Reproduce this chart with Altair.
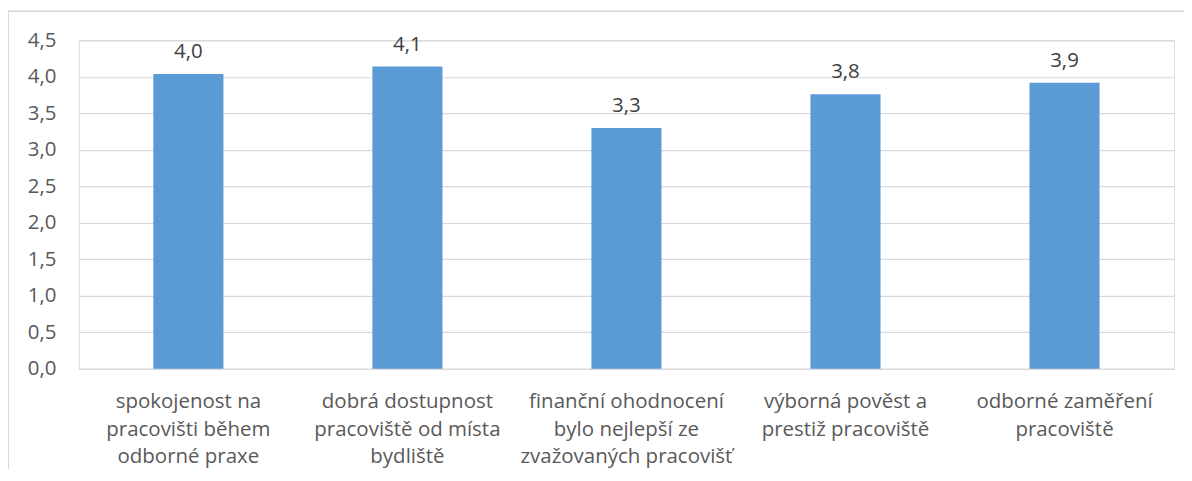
import altair as alt
import pandas as pd

categories = [
    "spokojenost na\npracovišti během\nodborné praxe",
    "dobrá dostupnost\npracoviště od místa\nbydliště",
    "finanční ohodnocení\nbylo nejlepší ze\nzvažovaných pracovišť",
    "výborná pověst a\nprestiž pracoviště",
    "odborné zaměření\npracoviště",
]
values = [4.04, 4.14, 3.30, 3.76, 3.92]
y_ticks = [0.0, 0.5, 1.0, 1.5, 2.0, 2.5, 3.0, 3.5, 4.0, 4.5]

df = pd.DataFrame({"cat": categories, "val": values})

FONT = "Open Sans"
FS = 20.5
W, H = 1097, 329

x_enc = alt.X(
    "cat:N",
    sort=categories,
    title=None,
    scale=alt.Scale(paddingInner=0.68, paddingOuter=0.34),
    axis=alt.Axis(
        labelAngle=0,
        labelExpr="split(datum.label, '\\n')",
        labelFont=FONT,
        labelFontSize=FS,
        labelColor="#595959",
        labelLineHeight=27.5,
        labelPadding=39,
        labelLimit=0,
        labelOverlap=False,
        ticks=False,
        domainColor="#d9d9d9",
        domainWidth=1.3,
        grid=False,
        labelBaseline="alphabetic",
    ),
)
y_enc = alt.Y(
    "val:Q",
    title=None,
    scale=alt.Scale(domain=[0, 4.5], nice=False),
    axis=alt.Axis(
        values=y_ticks,
        tickCount=10,
        labelExpr="replace(format(datum.value, '.1f'), '.', ',')",
        labelFont=FONT,
        labelFontSize=FS,
        labelColor="#595959",
        labelPadding=23,
        labelOverlap=False,
        labelBound=False,
        ticks=False,
        domain=False,
        gridColor="#d9d9d9",
        gridWidth=1.2,
    ),
)

bars = alt.Chart(df).mark_bar(color="#5b9bd5").encode(x=x_enc, y=y_enc)

texts = (
    alt.Chart(df)
    .transform_calculate(lab="replace(format(datum.val, '.1f'), '.', ',')")
    .mark_text(font=FONT, fontSize=FS, color="#404040", baseline="alphabetic", dy=-16)
    .encode(x=x_enc, y=y_enc, text="lab:N")
)

left_border = alt.Chart(df).mark_rule(color="#d9d9d9", strokeWidth=1.3).encode(
    x=alt.value(-71), y=alt.value(-29), y2=alt.value(440)
)
top_border = alt.Chart(df).mark_rule(color="#d9d9d9", strokeWidth=1.3).encode(
    y=alt.value(-29), x=alt.value(-71), x2=alt.value(1120)
)

chart = (
    alt.layer(bars, texts, left_border, top_border)
    .properties(
        width=W,
        height=H,
        autosize=alt.AutoSizeParams(type="none"),
        padding={"left": 71, "top": 32, "right": 10, "bottom": 100},
    )
    .configure_view(stroke=None)
    .configure(background="white")
)

chart.save("out.html", embed_options={"renderer": "svg", "actions": False})
